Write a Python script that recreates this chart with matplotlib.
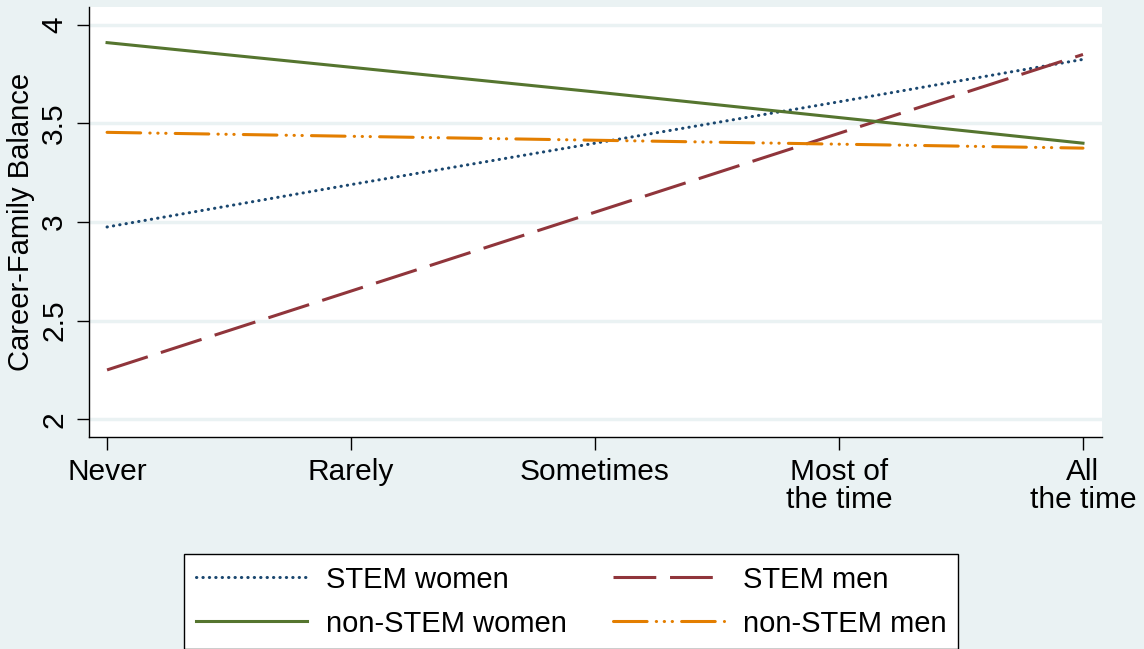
import numpy as np
import matplotlib.pyplot as plt

plt.rcParams['font.family'] = ['Liberation Sans', 'DejaVu Sans']

# categorias del eje x
categorias = ["Never", "Rarely", "Sometimes", "Most of\nthe time", "All\nthe time"]

# margenes predichos
stem_mujeres = [2.975, 3.19, 3.40, 3.61, 3.825]
stem_hombres = [2.25, 2.65, 3.05, 3.45, 3.85]
nostem_mujeres = [3.91, 3.785, 3.66, 3.53, 3.40]
nostem_hombres = [3.455, 3.435, 3.415, 3.395, 3.375]

fondo = '#EAF2F3'

fig = plt.figure(figsize=(11.44, 6.49), dpi=100, facecolor=fondo)
ax = fig.add_axes([0.0778, 0.3267, 0.8855, 0.6623])
ax.set_facecolor('white')

x = np.arange(len(categorias))

l1, = ax.plot(x, stem_mujeres, color='#1a476f', lw=2.2, linestyle=(0, (0.1, 2.0)),
              dash_capstyle='round', label='STEM women')
l2, = ax.plot(x, stem_hombres, color='#90353b', lw=2.2, linestyle=(0, (14, 4.5)),
              label='STEM men')
l3, = ax.plot(x, nostem_mujeres, color='#55752f', lw=2.2, linestyle='-',
              label='non-STEM women')
l4, = ax.plot(x, nostem_hombres, color='#e37e00', lw=2.2,
              linestyle=(0, (11, 3, 0.1, 2.5, 0.1, 2.5, 0.1, 3)),
              dash_capstyle='round', label='non-STEM men')

ax.set_xlim(-0.074, 4.078)
ax.set_ylim(1.91, 4.09)
ax.set_yticks([2, 2.5, 3, 3.5, 4])
ax.set_yticklabels(['2', '2.5', '3', '3.5', '4'], rotation=90, va='center')
ax.set_xticks(x)
ax.set_xticklabels(categorias, linespacing=1.0)

ax.yaxis.grid(True, color=fondo, lw=2.5)
ax.set_axisbelow(True)
for s in ['top', 'right']:
    ax.spines[s].set_visible(False)
for s in ['left', 'bottom']:
    ax.spines[s].set_linewidth(1.0)
ax.tick_params(axis='both', labelsize=21.5, length=9, width=1.0, pad=6)
ax.set_ylabel('Career-Family Balance', fontsize=21, labelpad=4)

# orden por filas como en Stata
leg = fig.legend(handles=[l1, l3, l2, l4], loc='center', ncol=2,
                 bbox_to_anchor=(0.4995, 0.0730), fontsize=21, frameon=True,
                 fancybox=False, edgecolor='black', framealpha=1,
                 handlelength=3.8, handletextpad=0.65, columnspacing=1.6,
                 labelspacing=0.55, borderpad=0.4)
leg.get_frame().set_linewidth(1.0)

plt.savefig('out.png', dpi=100, facecolor=fondo)
